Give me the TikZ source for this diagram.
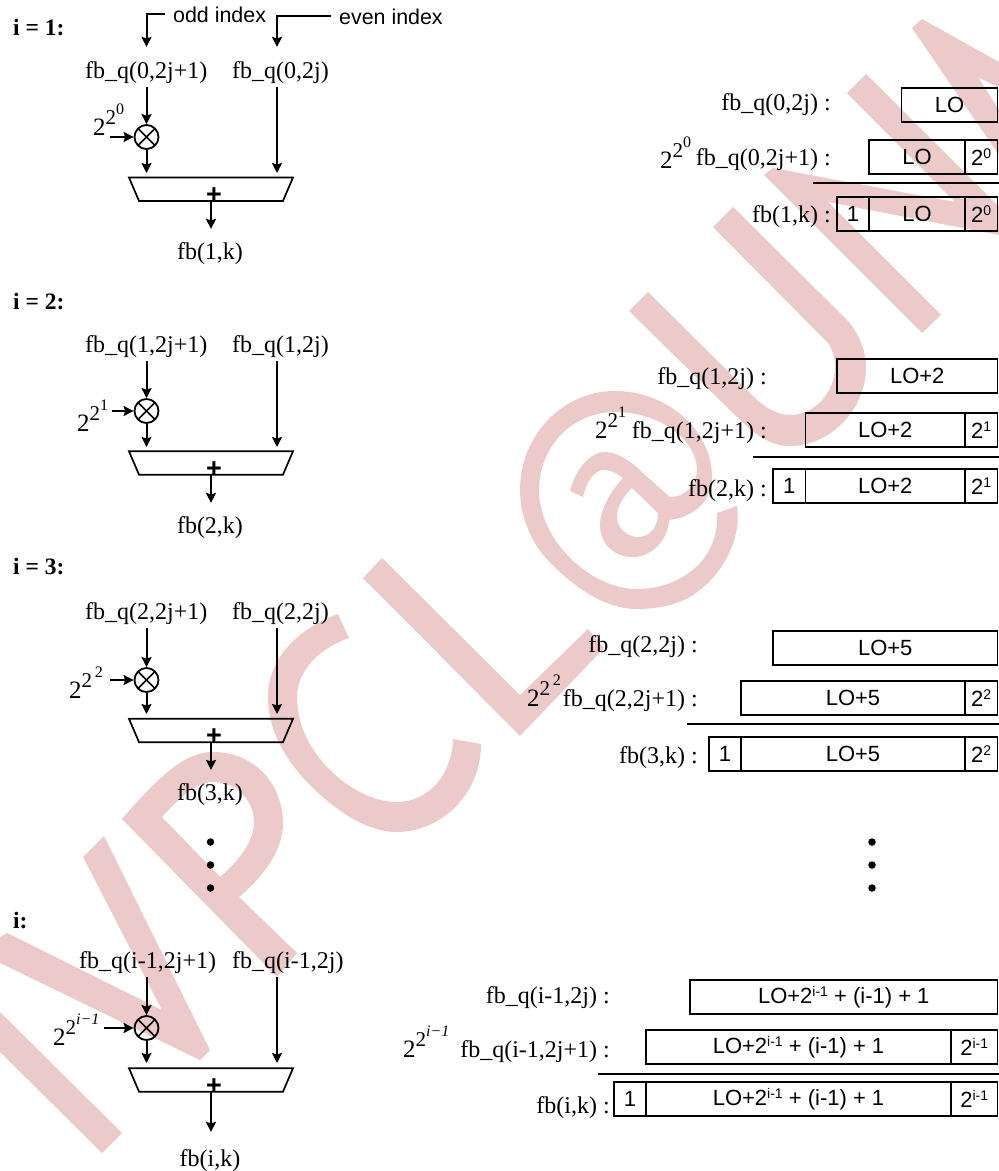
\documentclass[tikz,border=0pt]{standalone}
\usepackage{fontspec}
\setmainfont{Liberation Serif}
\setsansfont{Liberation Sans}
\usetikzlibrary{arrows.meta,positioning,shapes.geometric}
\definecolor{wmark}{RGB}{236,202,202}
\newcommand{\powtwo}[1]{{\fontsize{25}{25}\selectfont 2\raisebox{11pt}{\fontsize{21}{21}\selectfont 2\raisebox{10pt}{\fontsize{16}{16}\selectfont #1}}}}
\newcommand{\supr}[1]{\raisebox{7.5pt}{\fontsize{14}{14}\selectfont #1}}
\tikzset{
  wm/.style={fill=wmark, even odd rule},
  lab/.style={font=\fontsize{24}{28}\selectfont, inner xsep=0pt, inner ysep=4pt},
  head/.style={font=\fontsize{23.5}{28}\selectfont\bfseries, inner sep=0pt},
  note/.style={font=\fontsize{21.4}{26}\selectfont\sffamily, inner xsep=8pt, inner ysep=0pt},
  flowarr/.style={-{Stealth[length=10pt,width=10pt,inset=1.5pt]}, line width=2pt},
  mult/.style={circle, draw, line width=1.8pt, minimum size=24pt, inner sep=0pt,
    path picture={\draw[line width=1.7pt] (path picture bounding box.north west) -- (path picture bounding box.south east)
      (path picture bounding box.north east) -- (path picture bounding box.south west);}},
  adder/.style={trapezium, draw, line width=1.7pt, shape border rotate=180, trapezium stretches=true,
    trapezium angle=86, minimum width=164pt, minimum height=23.5pt, inner sep=2pt, outer sep=0pt},
  plusn/.style={font=\fontsize{27}{27}\selectfont\sffamily\bfseries, inner sep=0pt},
  cell/.style={draw, line width=1.7pt, minimum height=34pt, inner sep=0pt, outer sep=0pt,
    font=\fontsize{22}{25}\selectfont\sffamily},
  rulel/.style={line width=1.7pt},
  dotn/.style={circle, fill, inner sep=0pt, minimum size=7.5pt},
}
\begin{document}
\begin{tikzpicture}[x=1pt,y=-1pt]
  \useasboundingbox (0,0) rectangle (999,1171);
  % watermark
  \fill[wm] (122,1133) -- (102,1153) -- (0,1052) -- (0,1012) -- cycle;
  \fill[wm] (7,933) -- (162,1010) -- (83,857) -- (104,836) -- (210,1050) -- (200,1060) -- (0,963) -- (0,937) -- cycle;
  \fill[wm] (122,819) .. controls (160,775) and (185,752) .. (213,752) .. controls (255,752) and (283,785) .. (283,823)
    .. controls (283,850) and (265,875) .. (239,897) -- (297,953) -- (277,977) -- cycle
    (162,817) .. controls (180,797) and (197,782) .. (213,782) .. controls (237,782) and (254,800) .. (254,823)
    .. controls (254,840) and (240,860) .. (220,877) -- cycle;
  \fill[wm] (338,614) .. controls (295,630) and (268,660) .. (268,697) .. controls (268,730) and (285,760) .. (310,785)
    .. controls (340,815) and (370,832) .. (397,832) .. controls (440,832) and (481,795) .. (481,744) -- (453,739)
    .. controls (452,775) and (428,802) .. (397,802) .. controls (375,802) and (350,790) .. (330,770)
    .. controls (310,750) and (297,725) .. (297,697) .. controls (297,670) and (320,648) .. (349,638) -- cycle;
  \fill[wm] (382,558) -- (520,695) -- (588,629) -- (604,648) -- (520,736) -- (363,578) -- cycle;
  \fill[wm] (737,506) .. controls (742,540) and (722,577) .. (690,597) .. controls (673,606) and (655,609) .. (637,609)
    .. controls (600,609) and (566,580) .. (545,557) .. controls (530,540) and (520,515) .. (520,490)
    .. controls (520,436) and (562,391) .. (615,391) .. controls (667,391) and (712,430) .. (712,477)
    .. controls (712,500) and (695,517) .. (669,520) .. controls (668,540) and (652,557) .. (633,557)
    .. controls (612,557) and (600,542) .. (600,525) .. controls (600,510) and (610,492) .. (623,478)
    .. controls (615,472) and (610,470) .. (603,470) .. controls (595,470) and (586,482) .. (583,497) -- (570,491)
    .. controls (575,470) and (590,452) .. (605,452) .. controls (620,452) and (635,465) .. (645,475) -- (670,497)
    .. controls (685,497) and (697,485) .. (697,470) .. controls (697,440) and (660,412) .. (615,412)
    .. controls (572,412) and (539,447) .. (539,490) .. controls (539,540) and (590,589) .. (637,589)
    .. controls (680,589) and (720,560) .. (717,513) -- cycle
    (632,488) -- (658,513) .. controls (658,527) and (650,537) .. (638,537) .. controls (626,537) and (617,527) .. (617,517)
    .. controls (617,507) and (622,498) .. (632,488) -- cycle;
  \fill[wm] (648,292) -- (750,393) .. controls (763,407) and (777,415) .. (790,415) .. controls (815,415) and (835,392) .. (835,367)
    .. controls (835,358) and (832,348) .. (828,343) -- (713,227) -- (733,207) -- (847,320) .. controls (858,332) and (866,350) .. (866,367)
    .. controls (866,410) and (830,446) .. (790,446) .. controls (770,446) and (755,435) .. (735,415) -- (629,311) -- cycle;
  \fill[wm] (764,175) -- (773,168) -- (955,202) -- (847,93) -- (866,74) -- (999,207) -- (999,235) -- (828,202) -- (941,315) -- (922,333) -- cycle;
  \fill[wm] (922,19) -- (999,62) -- (999,88) -- (978,77) -- (999,110) -- (999,155) -- (912,28) -- cycle;

  % i = 1, left
  \node[head, anchor=base west] (h1) at (13,35) {i = 1:};
  \node[lab, anchor=base west] (t1odd) at (85,78) {fb\_q(0,2j+1)};
  \node[lab, anchor=base west] (t1even) at (232,78) {fb\_q(0,2j)};
  \node[mult] (m1) at (146.5,137) {};
  \node[adder] (s1) at (211,189.25) {};
  \node[plusn] (pl1) at (214,196) {+};
  \node[lab, anchor=base] (r1) at (210,259) {fb(1,k)};
  \node[lab, anchor=base west] (p1) at (93,135) {\powtwo{0}};
  \coordinate (k1) at (110,137);
  \coordinate (a1) at (146.5,173);
  \coordinate (b1) at (277,173);
  \node[note, anchor=base west] (oddl) at (165,22) {odd index};
  \node[note, anchor=base west] (evenl) at (331,24) {even index};
  \draw[flowarr, shorten >=10pt] (oddl.west) -| (t1odd.north -| m1);
  \draw[flowarr, shorten >=10pt] (evenl.west) -| (t1even.north -| b1);
  \draw[flowarr] (t1odd.south -| m1) -- (m1);
  \draw[flowarr] (k1) -- (m1);
  \draw[flowarr] (m1) -- (a1);
  \draw[flowarr] (t1even.south -| b1) -- (b1);
  \draw[flowarr, shorten >=9pt] (s1.south) -- (s1.south |- r1.north);

  % i = 2, left
  \node[head, anchor=base west] (h2) at (13,309) {i = 2:};
  \node[lab, anchor=base west] (t2odd) at (85,352) {fb\_q(1,2j+1)};
  \node[lab, anchor=base west] (t2even) at (232,352) {fb\_q(1,2j)};
  \node[mult] (m2) at (146.5,411) {};
  \node[adder] (s2) at (211,463) {};
  \node[plusn] (pl2) at (214,470) {+};
  \node[lab, anchor=base] (r2) at (210,533) {fb(2,k)};
  \node[lab, anchor=base west] (p2) at (77,431) {\powtwo{1}};
  \coordinate (k2) at (112,411);
  \coordinate (a2) at (146.5,447);
  \coordinate (b2) at (277,447);
  \draw[flowarr] (t2odd.south -| m2) -- (m2);
  \draw[flowarr] (k2) -- (m2);
  \draw[flowarr] (m2) -- (a2);
  \draw[flowarr] (t2even.south -| b2) -- (b2);
  \draw[flowarr, shorten >=9pt] (s2.south) -- (s2.south |- r2.north);

  % i = 3, left
  \node[head, anchor=base west] (h3) at (13,574) {i = 3:};
  \node[lab, anchor=base west] (t3odd) at (85,619) {fb\_q(2,2j+1)};
  \node[lab, anchor=base west] (t3even) at (232,619) {fb\_q(2,2j)};
  \node[mult] (m3) at (146.5,680) {};
  \node[adder] (s3) at (211,730.5) {};
  \node[plusn] (pl3) at (214,737) {+};
  \node[lab, anchor=base] (r3) at (210,800) {fb(3,k)};
  \node[lab, anchor=base west] (p3) at (69,698) {\powtwo{\,2}};
  \coordinate (k3) at (110,680);
  \coordinate (a3) at (146.5,714);
  \coordinate (b3) at (277,714);
  \draw[flowarr] (t3odd.south -| m3) -- (m3);
  \draw[flowarr] (k3) -- (m3);
  \draw[flowarr] (m3) -- (a3);
  \draw[flowarr] (t3even.south -| b3) -- (b3);
  \draw[flowarr, shorten >=9pt] (s3.south) -- (s3.south |- r3.north);

  \node[dotn] (d1) at (210.5,842) {};
  \node[dotn] (d2) at (210.5,865) {};
  \node[dotn] (d3) at (210.5,888) {};

  % i, left
  \node[head, anchor=base west] (h4) at (13,928) {i:};
  \node[lab, anchor=base west] (t4odd) at (79,968) {fb\_q(i-1,2j+1)};
  \node[lab, anchor=base west] (t4even) at (232,968) {fb\_q(i-1,2j)};
  \node[mult] (m4) at (146.5,1028) {};
  \node[adder] (s4) at (211,1080) {};
  \node[plusn] (pl4) at (214,1087) {+};
  \node[lab, anchor=base] (r4) at (210,1166) {fb(i,k)};
  \node[lab, anchor=base west] (p4) at (53,1045) {\powtwo{\textit{i}\textit{−}\textit{1}}};
  \coordinate (k4) at (104,1028);
  \coordinate (a4) at (146.5,1063);
  \coordinate (b4) at (277,1063);
  \draw[flowarr] (t4odd.south -| m4) -- (m4);
  \draw[flowarr] (k4) -- (m4);
  \draw[flowarr] (m4) -- (a4);
  \draw[flowarr] (t4even.south -| b4) -- (b4);
  \draw[flowarr, shorten >=13pt] (s4.south) -- (s4.south |- r4.north);

  % i = 1, right
  \node[lab, anchor=base east] (l11) at (831,110) {fb\_q(0,2j) :};
  \node[cell, anchor=west, minimum width=96pt] (c11) at (901.5,105) {LO};
  \node[lab, anchor=base west] (q12) at (660,168) {\powtwo{0}};
  \node[lab, anchor=base east] (l12) at (831,165) {fb\_q(0,2j+1) :};
  \node[cell, anchor=west, minimum width=96pt] (c12) at (869,157) {LO};
  \node[cell, right=0pt of c12, minimum width=32.5pt] (e12) {2\supr{0}};
  \coordinate (u1a) at (813,183);
  \coordinate (u1b) at (999,183);
  \draw[rulel] (u1a) -- (u1b);
  \node[lab, anchor=base east] (l13) at (831,222) {fb(1,k) :};
  \node[cell, anchor=west, minimum width=32pt] (o13) at (837,214) {1};
  \node[cell, right=0pt of o13, minimum width=96pt] (c13) {LO};
  \node[cell, right=0pt of c13, minimum width=32.5pt] (e13) {2\supr{0}};

  % i = 2, right
  \node[lab, anchor=base east] (l21) at (767,384) {fb\_q(1,2j) :};
  \node[cell, anchor=west, minimum width=160.5pt] (c21) at (837,376) {LO+2};
  \node[lab, anchor=base west] (q22) at (595,438) {\powtwo{1}};
  \node[lab, anchor=base east] (l22) at (767,438) {fb\_q(1,2j+1) :};
  \node[cell, anchor=west, minimum width=159.5pt] (c22) at (805.5,430) {LO+2};
  \node[cell, right=0pt of c22, minimum width=32.5pt] (e22) {2\supr{1}};
  \coordinate (u2a) at (753,457);
  \coordinate (u2b) at (999,457);
  \draw[rulel] (u2a) -- (u2b);
  \node[lab, anchor=base east] (l23) at (767,496) {fb(2,k) :};
  \node[cell, anchor=west, minimum width=32.5pt] (o23) at (773,486) {1};
  \node[cell, right=0pt of o23, minimum width=159.5pt] (c23) {LO+2};
  \node[cell, right=0pt of c23, minimum width=32.5pt] (e23) {2\supr{1}};

  % i = 3, right
  \node[lab, anchor=base east] (l31) at (698,652) {fb\_q(2,2j) :};
  \node[cell, anchor=west, minimum width=224.5pt] (c31) at (773,648) {LO+5};
  \node[lab, anchor=base west] (q32) at (527,706) {\powtwo{\,2}};
  \node[lab, anchor=base east] (l32) at (698,706) {fb\_q(2,2j+1) :};
  \node[cell, anchor=west, minimum width=224pt] (c32) at (741,698) {LO+5};
  \node[cell, right=0pt of c32, minimum width=32.5pt] (e32) {2\supr{2}};
  \coordinate (u3a) at (687,724);
  \coordinate (u3b) at (999,724);
  \draw[rulel] (u3a) -- (u3b);
  \node[lab, anchor=base east] (l33) at (698,763) {fb(3,k) :};
  \node[cell, anchor=west, minimum width=32pt] (o33) at (709,754) {1};
  \node[cell, right=0pt of o33, minimum width=224pt] (c33) {LO+5};
  \node[cell, right=0pt of c33, minimum width=32.5pt] (e33) {2\supr{2}};

  \node[dotn] (d4) at (872,842) {};
  \node[dotn] (d5) at (872,865) {};
  \node[dotn] (d6) at (872,888) {};

  % i, right
  \node[lab, anchor=base east] (l41) at (610,1003) {fb\_q(i-1,2j) :};
  \node[cell, anchor=west, minimum width=307.5pt] (c41) at (690,997) {LO+2\supr{i-1} + (i-1) + 1};
  \node[lab, anchor=base west] (q42) at (403,1057) {\powtwo{\textit{i}\textit{−}\textit{1}}};
  \node[lab, anchor=base east] (l42) at (610,1057) {fb\_q(i-1,2j+1) :};
  \node[cell, anchor=west, minimum width=305pt] (c42) at (646,1047) {LO+2\supr{i-1} + (i-1) + 1};
  \node[cell, right=0pt of c42, minimum width=46.5pt] (e42) {2\supr{i-1}};
  \coordinate (u4a) at (598,1074);
  \coordinate (u4b) at (999,1074);
  \draw[rulel] (u4a) -- (u4b);
  \node[lab, anchor=base east] (l43) at (610,1113) {fb(i,k) :};
  \node[cell, anchor=west, minimum width=32pt] (o43) at (614,1099) {1};
  \node[cell, right=0pt of o43, minimum width=305pt] (c43) {LO+2\supr{i-1} + (i-1) + 1};
  \node[cell, right=0pt of c43, minimum width=46.5pt] (e43) {2\supr{i-1}};
\end{tikzpicture}
\end{document}
